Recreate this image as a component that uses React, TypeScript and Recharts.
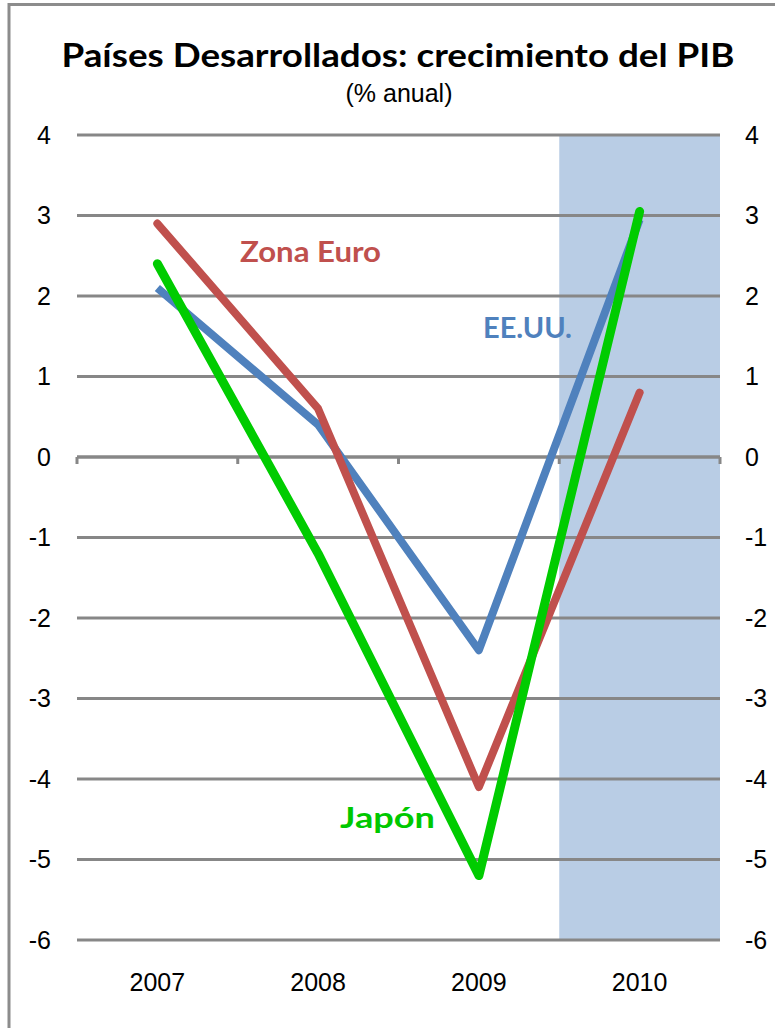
import React from 'react';
import { ComposedChart, Line, XAxis, YAxis, CartesianGrid, ReferenceArea, ReferenceLine } from 'recharts';

const years = ['2007', '2008', '2009', '2010'];
const eeuu = [2.1, 0.4, -2.4, 2.95];
const zonaEuro = [2.9, 0.6, -4.1, 0.8];
const japon = [2.4, -1.2, -5.2, 3.05];
const yTicks = [-6, -5, -4, -3, -2, -1, 0, 1, 2, 3, 4];

const data = years.map((year, i) => ({
  year,
  eeuu: eeuu[i],
  zonaEuro: zonaEuro[i],
  japon: japon[i],
}));

const GRID = '#878787';
const tickStyle = { fontSize: 25, fill: '#000', fontFamily: '"Liberation Sans", Arial, sans-serif' };

// zero line with small tick marks at the category boundaries
const ZeroLine = (props: any) => {
  const { x1, x2, y1 } = props;
  const n = years.length;
  const step = (x2 - x1) / n;
  const marks = Array.from({ length: n + 1 }, (_, i) => x1 + i * step);
  return (
    <g>
      <line x1={x1} x2={x2} y1={y1} y2={y1} stroke={GRID} strokeWidth={3} />
      {marks.map((mx, i) => (
        <line key={i} x1={mx} x2={mx} y1={y1} y2={y1 + 7} stroke={GRID} strokeWidth={3} />
      ))}
    </g>
  );
};

const App: React.FC = () => {
  return (
    <div style={{ position: 'absolute', left: 0, top: 0, width: 777, height: 1028, background: '#fff' }}>
      <ComposedChart
        width={777}
        height={1028}
        data={data}
        margin={{ top: 135, right: 0, bottom: 38, left: 0 }}
      >
        <XAxis
          dataKey="year"
          scale="band"
          axisLine={false}
          tickLine={false}
          height={50}
          tickMargin={27}
          tick={tickStyle}
        />
        <YAxis
          yAxisId="left"
          domain={[-6, 4]}
          ticks={yTicks}
          axisLine={false}
          tickLine={false}
          width={77}
          tickMargin={20}
          tick={tickStyle}
        />
        <YAxis
          yAxisId="right"
          orientation="right"
          domain={[-6, 4]}
          ticks={yTicks}
          axisLine={false}
          tickLine={false}
          width={57}
          tickMargin={19}
          tick={tickStyle}
        />
        <ReferenceArea
          yAxisId="left"
          x1="2010"
          x2="2010"
          y1={-6}
          y2={4}
          fill="#B9CDE5"
          fillOpacity={1}
          stroke="none"
          zIndex={-200}
        />
        <CartesianGrid yAxisId="left" vertical={false} stroke={GRID} strokeWidth={3} />
        <ReferenceLine yAxisId="left" y={0} shape={ZeroLine} />
        <Line
          yAxisId="left"
          type="linear"
          dataKey="eeuu"
          stroke="#4F81BD"
          strokeWidth={8}
          dot={false}
          strokeLinejoin="round"
          isAnimationActive={false}
        />
        <Line
          yAxisId="left"
          type="linear"
          dataKey="zonaEuro"
          stroke="#C0504D"
          strokeWidth={8}
          dot={false}
          strokeLinecap="round"
          strokeLinejoin="round"
          isAnimationActive={false}
        />
        <Line
          yAxisId="right"
          type="linear"
          dataKey="japon"
          stroke="#00CC00"
          strokeWidth={9}
          dot={false}
          strokeLinecap="round"
          strokeLinejoin="round"
          isAnimationActive={false}
        />
      </ComposedChart>
      <svg
        width={777}
        height={1028}
        style={{ position: 'absolute', left: 0, top: 0, pointerEvents: 'none' }}
      >
        <path d="M9,1028 L9,4.5 L775,4.5" fill="none" stroke="#8C8C8C" strokeWidth={3} />
        <text
          x={398}
          y={67}
          textAnchor="middle"
          fontFamily="Lato, 'Open Sans', sans-serif"
          fontWeight="bold"
          fontSize={32}
          textLength={673}
          lengthAdjust="spacingAndGlyphs"
          fill="#000"
        >
          Países Desarrollados: crecimiento del PIB
        </text>
        <text
          x={399}
          y={102}
          textAnchor="middle"
          fontFamily="'Liberation Sans', Arial, sans-serif"
          fontSize={25}
          fill="#000"
        >
          (% anual)
        </text>
        <text
          x={240}
          y={262}
          fontFamily="Lato, 'Open Sans', sans-serif"
          fontWeight="bold"
          fontSize={28}
          textLength={141}
          lengthAdjust="spacingAndGlyphs"
          fill="#C0504D"
        >
          Zona Euro
        </text>
        <text
          x={483}
          y={338}
          fontFamily="Lato, 'Open Sans', sans-serif"
          fontWeight="bold"
          fontSize={28}
          textLength={89}
          lengthAdjust="spacingAndGlyphs"
          fill="#4F81BD"
        >
          EE.UU.
        </text>
        <text
          x={340}
          y={828}
          fontFamily="Lato, 'Open Sans', sans-serif"
          fontWeight="bold"
          fontSize={28}
          textLength={95}
          lengthAdjust="spacingAndGlyphs"
          fill="#00C800"
        >
          Japón
        </text>
      </svg>
    </div>
  );
};

export default App;
